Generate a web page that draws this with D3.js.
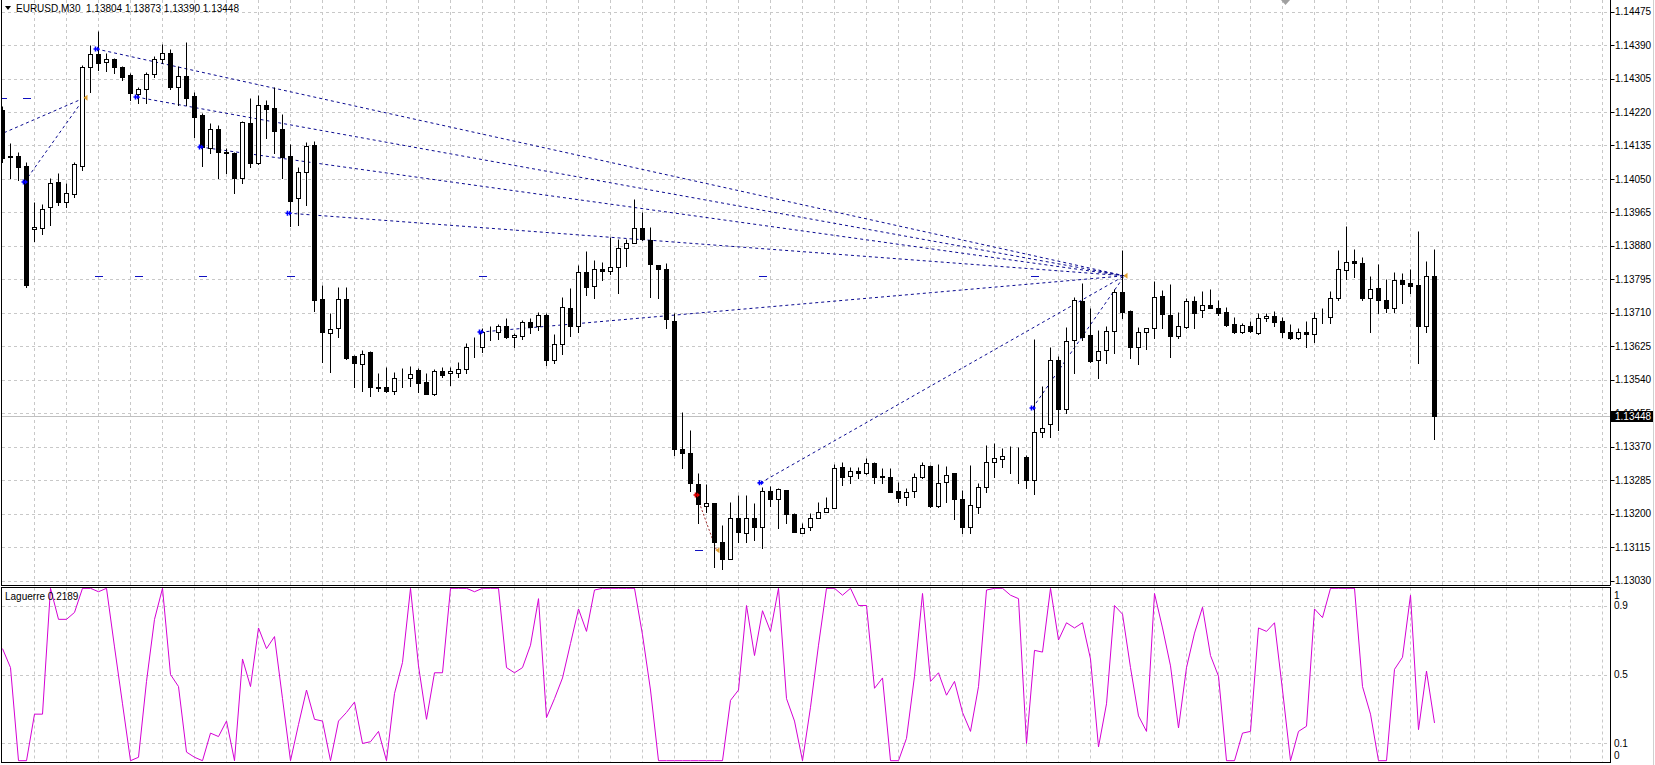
<!DOCTYPE html>
<html><head><meta charset="utf-8">
<script src="https://cdn.jsdelivr.net/npm/d3@7"></script>
<style>html,body{margin:0;padding:0;background:#fff;overflow:hidden}</style>
</head><body>
<svg id="c" width="1655" height="765"></svg>
<script>
// ---------- DATA ----------
const symbol = "EURUSD,M30";
const headerValues = ["1.13804", "1.13873", "1.13390", "1.13448"];
const indicatorName = "Laguerre 0.2189";

const opens = [1.14225,1.14108,1.14108,1.14083,1.13923,1.13925,1.13979,1.14042,1.13991,1.14012,
1.14083,1.14334,1.14367,1.14347,1.14355,1.14334,1.14314,1.14266,1.14278,1.14316,
1.14355,1.14370,1.14283,1.14311,1.14261,1.14212,1.14128,1.14177,1.14118,1.14116,
1.14052,1.14192,1.14090,1.14238,1.14230,1.14177,1.14108,1.14002,1.14068,1.14136,
1.13745,1.13659,1.13671,1.13745,1.13600,1.13580,1.13610,1.13521,1.13521,1.13511,
1.13544,1.13544,1.13565,1.13534,1.13504,1.13562,1.13557,1.13557,1.13567,1.13623,
1.13623,1.13659,1.13661,1.13676,1.13649,1.13651,1.13686,1.13676,1.13704,1.13590,
1.13631,1.13722,1.13676,1.13814,1.13778,1.13821,1.13816,1.13826,1.13875,1.13887,
1.13925,1.13895,1.13831,1.13821,1.13689,1.13364,1.13354,1.13275,1.13219,1.13227,
1.13128,1.13085,1.13189,1.13151,1.13189,1.13166,1.13257,1.13237,1.13260,1.13199,
1.13151,1.13166,1.13189,1.13204,1.13214,1.13318,1.13295,1.13308,1.13303,1.13328,
1.13293,1.13293,1.13257,1.13242,1.13257,1.13293,1.13321,1.13219,1.13280,1.13303,
1.13237,1.13165,1.13217,1.13267,1.13331,1.13339,1.13344,1.13344,1.13344,1.13285,
1.13407,1.13428,1.13590,1.13466,1.13641,1.13740,1.13654,1.13590,1.13615,1.13664,
1.13763,1.13715,1.13623,1.13661,1.13671,1.13753,1.13704,1.13651,1.13674,1.13740,
1.13717,1.13730,1.13722,1.13712,1.13681,1.13661,1.13676,1.13659,1.13697,1.13702,
1.13689,1.13661,1.13646,1.13661,1.13656,1.13697,1.13699,1.13748,1.13819,1.13842,
1.13836,1.13748,1.13773,1.13742,1.13722,1.13793,1.13786,1.13781,1.13676,1.13804];

const highs = [1.14235,1.14141,1.14118,1.14093,1.13991,1.13986,1.14052,1.14065,1.14040,1.14093,
1.14339,1.14390,1.14426,1.14370,1.14357,1.14337,1.14319,1.14283,1.14322,1.14362,
1.14393,1.14380,1.14337,1.14398,1.14271,1.14217,1.14192,1.14187,1.14128,1.14118,
1.14197,1.14256,1.14263,1.14250,1.14283,1.14215,1.14139,1.14080,1.14144,1.14146,
1.13781,1.13710,1.13776,1.13776,1.13602,1.13615,1.13612,1.13557,1.13572,1.13560,
1.13570,1.13575,1.13570,1.13557,1.13567,1.13572,1.13572,1.13585,1.13633,1.13648,
1.13671,1.13676,1.13681,1.13697,1.13659,1.13692,1.13697,1.13712,1.13710,1.13656,
1.13750,1.13773,1.13831,1.13867,1.13844,1.13839,1.13902,1.13897,1.13897,1.13999,
1.13966,1.13928,1.13832,1.13836,1.13710,1.13458,1.13412,1.13303,1.13275,1.13228,
1.13171,1.13229,1.13247,1.13247,1.13227,1.13267,1.13270,1.13265,1.13261,1.13201,
1.13176,1.13201,1.13229,1.13242,1.13326,1.13331,1.13318,1.13318,1.13341,1.13331,
1.13316,1.13316,1.13280,1.13265,1.13303,1.13331,1.13323,1.13326,1.13321,1.13304,
1.13260,1.13323,1.13278,1.13374,1.13379,1.13367,1.13372,1.13369,1.13349,1.13643,
1.13524,1.13623,1.13600,1.13674,1.13750,1.13786,1.13722,1.13666,1.13676,1.13770,
1.13869,1.13716,1.13674,1.13672,1.13791,1.13768,1.13783,1.13712,1.13748,1.13753,
1.13765,1.13770,1.13742,1.13725,1.13699,1.13684,1.13689,1.13710,1.13710,1.13715,
1.13699,1.13681,1.13671,1.13689,1.13712,1.13722,1.13765,1.13869,1.13930,1.13872,
1.13852,1.13803,1.13834,1.13796,1.13814,1.13811,1.13821,1.13918,1.13842,1.13873];

const lows = [1.14093,1.14052,1.14047,1.13775,1.13892,1.13910,1.13933,1.13984,1.13979,1.14004,
1.14073,1.14271,1.14327,1.14324,1.14319,1.14301,1.14250,1.14243,1.14243,1.14309,
1.14344,1.14278,1.14238,1.14238,1.14156,1.14083,1.14116,1.14052,1.14065,1.14014,
1.14040,1.14080,1.14088,1.14154,1.14116,1.14052,1.13930,1.13933,1.13984,1.13715,
1.13585,1.13560,1.13649,1.13593,1.13521,1.13511,1.13499,1.13511,1.13510,1.13504,
1.13521,1.13524,1.13509,1.13503,1.13501,1.13547,1.13527,1.13547,1.13557,1.13598,
1.13610,1.13641,1.13643,1.13646,1.13623,1.13643,1.13659,1.13666,1.13577,1.13582,
1.13605,1.13651,1.13661,1.13755,1.13748,1.13793,1.13809,1.13760,1.13829,1.13886,
1.13895,1.13750,1.13748,1.13671,1.13349,1.13316,1.13257,1.13176,1.13204,1.13064,
1.13059,1.13084,1.13128,1.13128,1.13133,1.13113,1.13219,1.13163,1.13176,1.13152,
1.13150,1.13158,1.13188,1.13203,1.13213,1.13273,1.13278,1.13290,1.13300,1.13278,
1.13277,1.13254,1.13229,1.13222,1.13242,1.13290,1.13217,1.13217,1.13229,1.13186,
1.13150,1.13150,1.13201,1.13255,1.13293,1.13318,1.13303,1.13278,1.13265,1.13250,
1.13394,1.13394,1.13412,1.13455,1.13557,1.13641,1.13585,1.13544,1.13582,1.13608,
1.13697,1.13595,1.13580,1.13618,1.13646,1.13671,1.13598,1.13646,1.13671,1.13671,
1.13699,1.13721,1.13704,1.13676,1.13659,1.13659,1.13661,1.13656,1.13689,1.13676,
1.13649,1.13643,1.13643,1.13623,1.13636,1.13684,1.13684,1.13742,1.13796,1.13801,
1.13742,1.13661,1.13710,1.13712,1.13712,1.13735,1.13760,1.13582,1.13661,1.13390];

const closes = [1.14103,1.14105,1.14080,1.13781,1.13928,1.13974,1.14040,1.13991,1.14014,1.14088,
1.14334,1.14367,1.14344,1.14355,1.14334,1.14309,1.14268,1.14278,1.14316,1.14355,
1.14370,1.14283,1.14311,1.14256,1.14207,1.14131,1.14177,1.14118,1.14116,1.14052,
1.14195,1.14090,1.14238,1.14228,1.14172,1.14106,1.13994,1.14068,1.14134,1.13742,
1.13661,1.13669,1.13745,1.13595,1.13582,1.13605,1.13521,1.13520,1.13511,1.13544,
1.13545,1.13555,1.13532,1.13504,1.13562,1.13552,1.13562,1.13567,1.13623,1.13622,
1.13661,1.13658,1.13676,1.13649,1.13654,1.13686,1.13674,1.13704,1.13590,1.13631,
1.13725,1.13676,1.13814,1.13776,1.13821,1.13816,1.13826,1.13875,1.13887,1.13925,
1.13897,1.13834,1.13821,1.13694,1.13364,1.13354,1.13278,1.13224,1.13227,1.13128,
1.13085,1.13189,1.13153,1.13189,1.13166,1.13257,1.13237,1.13262,1.13199,1.13153,
1.13163,1.13189,1.13204,1.13214,1.13316,1.13293,1.13308,1.13303,1.13328,1.13293,
1.13295,1.13255,1.13240,1.13255,1.13293,1.13323,1.13219,1.13278,1.13298,1.13237,
1.13165,1.13222,1.13267,1.13331,1.13341,1.13346,1.13343,1.13343,1.13285,1.13407,
1.13417,1.13590,1.13466,1.13638,1.13742,1.13649,1.13588,1.13613,1.13664,1.13763,
1.13712,1.13623,1.13661,1.13671,1.13750,1.13707,1.13651,1.13676,1.13740,1.13710,
1.13730,1.13722,1.13710,1.13679,1.13661,1.13679,1.13664,1.13697,1.13702,1.13687,
1.13661,1.13646,1.13661,1.13656,1.13697,1.13698,1.13748,1.13821,1.13839,1.13836,
1.13748,1.13770,1.13742,1.13722,1.13793,1.13783,1.13778,1.13676,1.13803,1.13448];

const laguerre = [0.65,0.54,0,0,0.27,0.27,1,0.82,0.82,0.86,
1,1,0.98,1,0.66,0.33,0,0.02,0.46,0.82,
1,0.5,0.43,0.05,0.02,0,0.16,0.14,0.23,0,
0.59,0.43,0.77,0.65,0.72,0.36,0,0.21,0.41,0.24,
0.23,0,0.23,0.28,0.34,0.1,0.11,0.17,0,0.39,
0.57,1,0.55,0.24,0.51,0.51,1,1,1,0.98,
1,1,1,0.54,0.51,0.54,0.67,0.94,0.25,0.36,
0.48,0.68,0.88,0.75,0.99,1,1,1,1,1,
0.73,0.41,0,0,0,0,0,0,0,0,
0,0.35,0.41,0.9,0.61,0.87,0.75,1,0.36,0.23,
0,0.31,0.67,1,1,0.96,1,0.9,0.9,0.42,
0.48,0,0,0.13,0.49,0.97,0.46,0.51,0.38,0.46,
0.28,0.17,0.43,0.99,1,1,0.96,0.94,0.1,0.64,
0.63,1,0.7,0.8,0.77,0.8,0.59,0.08,0.33,0.9,
0.85,0.54,0.26,0.17,0.97,0.77,0.55,0.19,0.54,0.74,
0.89,0.61,0.49,0,0,0.16,0.17,0.77,0.75,0.8,
0.41,0,0.17,0.2,0.88,0.83,1,1,1,1,
0.43,0.27,0,0,0.53,0.6,0.96,0.18,0.52,0.2189];

const priceTicks = [1.14475,1.14390,1.14305,1.14220,1.14135,1.14050,1.13965,1.13880,1.13795,
  1.13710,1.13625,1.13540,1.13455,1.13370,1.13285,1.13200,1.13115,1.13030];
const laguerreTicks = [1, 0.9, 0.5, 0.1, 0];
const laguerreGrid = [0.9, 0.5, 0.1];
const lastPrice = 1.13448;

// arrow markers (bar index, price) and their target points
const blueArrowBars   = [3, 12, 17, 25, 36, 60, 95, 129];
const blueArrowPrices = [1.14042, 1.14380, 1.14258, 1.14131, 1.13963, 1.13661, 1.13278, 1.13468];
const blueArrowTarget = [10, 140, 140, 140, 140, 140, 140, 140];
const targetBars   = [10, 89, 140];
const targetPrices = [1.14256, 1.13107, 1.13804];
const extraLineFrom = {bar: -3, price: 1.14137, to: 10};
const redArrow = {bar: 87, price: 1.13247, to: 89};
const levelDashBars   = [0, 3, 12, 17, 25, 36, 60, 87, 95, 129];
const levelDashPrices = [1.14256, 1.14256, 1.13804, 1.13804, 1.13804, 1.13804, 1.13804, 1.13107, 1.13804, 1.13804];

// ---------- LAYOUT ----------
const W = 1655, H = 765;
const axisX = 1610.5;
const mainTop = 0, mainBottom = 585.5;
const indTop = 587.5, indBottom = 762.5;
const font = "'Liberation Sans', Arial, sans-serif";

const svg = d3.select('#c');
const x = d3.scaleLinear().domain([0, 1]).range([2.5, 10.5]);
const yMain = d3.scaleLinear().domain([1.13030, 1.14475]).range([580.5, 11.6]);
const yInd = d3.scaleLinear().domain([0, 1]).range([760.7, 588.3]);
const sy = p => Math.round(yMain(p)) + 0.5;
const tgtX = i => x(i) + 2;
const arrX = i => x(i) - 2;

const defs = svg.append('defs');
defs.append('clipPath').attr('id', 'mainClip').append('rect')
  .attr('x', 2).attr('y', 0).attr('width', axisX - 2).attr('height', mainBottom);
defs.append('clipPath').attr('id', 'indClip').append('rect')
  .attr('x', 2).attr('y', indTop + 0.5).attr('width', axisX - 2).attr('height', indBottom - indTop - 1);

// ---------- GRID ----------
const gridColor = '#c8c8c8';
const vGridBars = d3.range(4, 201, 4);
const grid = svg.append('g');
grid.selectAll('line.vg').data(vGridBars).join('line')
  .attr('x1', d => x(d)).attr('x2', d => x(d)).attr('y1', 0).attr('y2', mainBottom)
  .attr('stroke', gridColor).attr('stroke-dasharray', '3,3');
grid.selectAll('line.vg2').data(vGridBars).join('line')
  .attr('x1', d => x(d)).attr('x2', d => x(d)).attr('y1', indTop).attr('y2', indBottom)
  .attr('stroke', gridColor).attr('stroke-dasharray', '3,3');
grid.selectAll('line.hg').data(priceTicks).join('line')
  .attr('x1', 2).attr('x2', axisX).attr('y1', d => sy(d)).attr('y2', d => sy(d))
  .attr('stroke', gridColor).attr('stroke-dasharray', '3,3');
grid.selectAll('line.hg2').data(laguerreGrid).join('line')
  .attr('x1', 2).attr('x2', axisX).attr('y1', d => Math.round(yInd(d)) + 0.5).attr('y2', d => Math.round(yInd(d)) + 0.5)
  .attr('stroke', gridColor).attr('stroke-dasharray', '3,3');

// bid line
svg.append('line').attr('x1', 2).attr('x2', axisX).attr('y1', sy(lastPrice)).attr('y2', sy(lastPrice))
  .attr('stroke', '#c0c0c0');

// ---------- OVERLAY LINES ----------
const ov = svg.append('g').attr('clip-path', 'url(#mainClip)');
const lineColor = '#0a0a90';
const segs = blueArrowBars.map((b, k) => {
  const t = targetBars.indexOf(blueArrowTarget[k]);
  return {x1: arrX(b), y1: yMain(blueArrowPrices[k]), x2: tgtX(targetBars[t]), y2: yMain(targetPrices[t])};
});
{
  const t = targetBars.indexOf(extraLineFrom.to);
  segs.push({x1: arrX(extraLineFrom.bar), y1: yMain(extraLineFrom.price), x2: tgtX(targetBars[t]), y2: yMain(targetPrices[t])});
}
ov.selectAll('line.tl').data(segs).join('line')
  .attr('x1', d => d.x1).attr('y1', d => d.y1).attr('x2', d => d.x2).attr('y2', d => d.y2)
  .attr('stroke', lineColor).attr('stroke-width', 1).attr('stroke-dasharray', '3,3');
{
  const t = targetBars.indexOf(redArrow.to);
  ov.append('line').attr('x1', arrX(redArrow.bar)).attr('y1', yMain(redArrow.price))
    .attr('x2', tgtX(targetBars[t])).attr('y2', yMain(targetPrices[t]))
    .attr('stroke', '#a03030').attr('stroke-dasharray', '2,2');
}
ov.selectAll('line.lvl').data(levelDashBars).join('line')
  .attr('x1', d => x(d) - 3.5).attr('x2', d => x(d) + 4.5)
  .attr('y1', (d, k) => sy(levelDashPrices[k])).attr('y2', (d, k) => sy(levelDashPrices[k]))
  .attr('stroke', '#1010c0').attr('stroke-width', 1);

// ---------- CANDLES ----------
const bars = d3.range(opens.length).map(i => ({i, o: opens[i], h: highs[i], l: lows[i], c: closes[i]}));
const cg = svg.append('g').attr('clip-path', 'url(#mainClip)');
cg.selectAll('line.wick').data(bars).join('line')
  .attr('x1', d => x(d.i)).attr('x2', d => x(d.i))
  .attr('y1', d => sy(d.h)).attr('y2', d => sy(d.l) + 0.5)
  .attr('stroke', '#000');
cg.selectAll('rect.body').data(bars).join('rect')
  .attr('x', d => x(d.i) - 2).attr('width', 4)
  .attr('y', d => sy(Math.max(d.o, d.c)))
  .attr('height', d => Math.max(0, sy(Math.min(d.o, d.c)) - sy(Math.max(d.o, d.c))))
  .attr('fill', d => d.c > d.o ? '#fff' : '#000')
  .attr('stroke', '#000').attr('stroke-width', 1);

// ---------- MARKERS ----------
const mk = svg.append('g');
mk.selectAll('g.ba').data(blueArrowBars).join('g')
  .attr('transform', (d, k) => `translate(${arrX(d)},${yMain(blueArrowPrices[k])})`)
  .each(function () {
    const s = d3.select(this);
    s.append('path').attr('d', 'M-3,0H1M-1,-2.5V2.5').attr('stroke', '#0000ff').attr('stroke-width', 1.6);
    s.append('path').attr('d', 'M0.5,-2.5L3.5,0L0.5,2.5Z').attr('fill', '#0000ff');
  });
{
  const s = mk.append('g').attr('transform', `translate(${arrX(redArrow.bar)},${yMain(redArrow.price)})`);
  s.append('path').attr('d', 'M-3,0H1M-1,-2.5V2.5').attr('stroke', '#e00000').attr('stroke-width', 1.6);
  s.append('path').attr('d', 'M0.5,-2.5L3.5,0L0.5,2.5Z').attr('fill', '#e00000');
}
mk.selectAll('path.tg').data(targetBars).join('path')
  .attr('transform', (d, k) => `translate(${tgtX(d)},${yMain(targetPrices[k])})`)
  .attr('d', 'M-1,0L3,-3L3,3Z').attr('fill', '#e0a030');

// ---------- LAGUERRE ----------
const ig = svg.append('g').attr('clip-path', 'url(#indClip)');
ig.append('path').datum(laguerre)
  .attr('d', d3.line().x((d, i) => x(i)).y(d => yInd(d)))
  .attr('fill', 'none').attr('stroke', '#d400d4').attr('stroke-width', 1);

// ---------- FRAMES ----------
const fr = svg.append('g').attr('stroke', '#000').attr('fill', 'none');
fr.append('line').attr('x1', 1.5).attr('x2', 1.5).attr('y1', 0).attr('y2', mainBottom);
fr.append('line').attr('x1', 1).attr('x2', axisX).attr('y1', mainBottom).attr('y2', mainBottom);
fr.append('line').attr('x1', axisX).attr('x2', axisX).attr('y1', 0).attr('y2', mainBottom);
fr.append('rect').attr('x', 1.5).attr('y', indTop).attr('width', axisX - 1.5).attr('height', indBottom - indTop);
svg.append('line').attr('x1', 1653.5).attr('x2', 1653.5).attr('y1', 0).attr('y2', H).attr('stroke', '#d0d0d0');

// ---------- AXIS LABELS ----------
const ax = svg.append('g').attr('font-family', font).attr('font-size', 10).attr('fill', '#000');
ax.selectAll('line.tk').data(priceTicks).join('line')
  .attr('x1', axisX).attr('x2', axisX + 4).attr('y1', d => sy(d)).attr('y2', d => sy(d)).attr('stroke', '#000');
ax.selectAll('text.pt').data(priceTicks).join('text')
  .attr('x', 1615).attr('y', d => yMain(d)).attr('dy', '0.36em')
  .text(d => d.toFixed(5));
ax.selectAll('text.lt').data(laguerreTicks).join('text')
  .attr('x', 1614).attr('y', d => Math.min(755, Math.max(595, yInd(d)))).attr('dy', '0.36em')
  .text(d => String(d));

// current price label
svg.append('rect').attr('x', 1611).attr('y', Math.round(yMain(lastPrice)) - 5).attr('width', 42).attr('height', 11).attr('fill', '#000');
svg.append('text').attr('x', 1615).attr('y', yMain(lastPrice)).attr('dy', '0.36em')
  .attr('font-family', font).attr('font-size', 10).attr('fill', '#fff').text(lastPrice.toFixed(5));

// header
svg.append('path').attr('d', 'M5,6L11,6L8,10Z').attr('fill', '#000');
svg.append('text').attr('x', 16).attr('y', 12).attr('font-family', font).attr('font-size', 10)
  .text(symbol + '  ' + headerValues.join(' ')).attr('xml:space', 'preserve').style('white-space', 'pre');
svg.append('text').attr('x', 5).attr('y', 600).attr('font-family', font).attr('font-size', 10)
  .text(indicatorName);

// chart shift marker
svg.append('path').attr('d', 'M1281,0L1290,0L1285.5,5Z').attr('fill', '#a0a0a0');
</script>
</body></html>
